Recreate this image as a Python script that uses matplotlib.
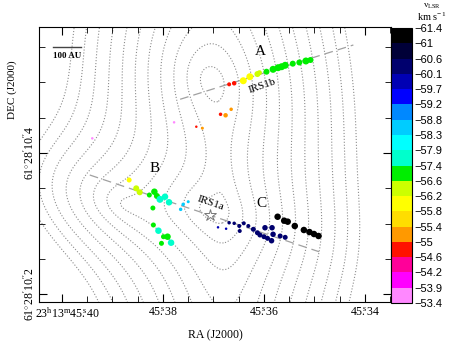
import matplotlib
matplotlib.use("Agg")
import matplotlib.pyplot as plt
import numpy as np
from matplotlib.colors import ListedColormap, BoundaryNorm
from matplotlib.ticker import FixedLocator, FixedFormatter, MultipleLocator
import matplotlib.colorbar as mcolorbar

plt.rcParams["font.family"] = ["Liberation Serif", "DejaVu Serif"]
plt.rcParams["mathtext.fontset"] = "custom"
plt.rcParams["mathtext.rm"] = "Liberation Serif"
plt.rcParams["mathtext.it"] = "Liberation Serif:italic"
plt.rcParams["mathtext.bf"] = "Liberation Serif:bold"

# colour bar: velocity bin edges (km/s) and colours
vel_edges = [-61.4, -61, -60.6, -60.1, -59.7, -59.2, -58.8, -58.3, -57.9, -57.4,
             -56.6, -56.2, -55.8, -55.4, -55, -54.6, -54.2, -53.9, -53.4]
vel_colors = ["#000000", "#000038", "#00006e", "#0000b4", "#0000ff", "#0088ff",
              "#00ccff", "#00ffff", "#00ffcc", "#00ee00", "#ccff00", "#ffff00",
              "#ffdd00", "#ff9900", "#ff1100", "#ff0099", "#ff00ff", "#ff88ff"]

# maser spots: RA seconds (23h13m..s), Dec arcsec (61d28'..")
spot_ra = [45.3669, 45.3659, 45.3641, 45.3628, 45.3613, 45.3609, 45.3595, 45.3582,
           45.3572, 45.3565, 45.3558, 45.3543, 45.3530, 45.3517, 45.3508,
           45.3686, 45.3676, 45.3665, 45.3734, 45.3722, 45.3778, 45.3940,
           45.3867, 45.3853, 45.3846, 45.3827, 45.3817, 45.3812, 45.3806, 45.3796,
           45.3788, 45.3760, 45.3750, 45.3765, 45.3820, 45.3819, 45.3809, 45.3799,
           45.3791, 45.3803, 45.3784,
           45.3691, 45.3675, 45.3669, 45.3659, 45.3649, 45.3640, 45.3631, 45.3648,
           45.3621, 45.3613, 45.3608, 45.3600, 45.3593, 45.3585, 45.3598, 45.3584,
           45.3582, 45.3568, 45.3558,
           45.3573, 45.3560, 45.3553, 45.3539, 45.3521, 45.3510, 45.3501, 45.3492]
spot_dec = [10.4974, 10.4989, 10.5025, 10.5082, 10.5120, 10.5139, 10.5153, 10.5187,
            10.5210, 10.5224, 10.5244, 10.5267, 10.5284, 10.5305, 10.5319,
            10.4549, 10.4535, 10.4620, 10.4373, 10.4352, 10.4435, 10.4208,
            10.3617, 10.3499, 10.3443, 10.3404, 10.3451, 10.3390, 10.3343, 10.3380,
            10.3301, 10.3272, 10.3309, 10.3201, 10.3220, 10.2979, 10.2898, 10.2813,
            10.2813, 10.2719, 10.2728,
            10.2946, 10.2926, 10.3011, 10.3003, 10.2965, 10.3003, 10.2965, 10.2894,
            10.2918, 10.2869, 10.2837, 10.2813, 10.2790, 10.2756, 10.2940, 10.2940,
            10.2847, 10.2823, 10.2804,
            10.3096, 10.3040, 10.3026, 10.2965, 10.2908, 10.2879, 10.2851, 10.2823]
spot_vel = [-54.8, -54.8, -56.0, -56.0, -56.4, -56.4, -57.0, -57.0,
            -57.0, -57.0, -57.0, -57.0, -57.0, -57.0, -57.0,
            -54.8, -55.2, -55.2, -54.8, -55.2, -53.65, -53.65,
            -56.0, -56.4, -56.4, -57.0, -57.0, -57.0, -57.65, -57.65,
            -57.65, -58.55, -58.55, -58.55, -57.0, -57.0, -57.65, -57.0,
            -57.0, -57.0, -57.65,
            -59.9, -59.9, -60.35, -60.35, -60.35, -60.35, -60.35, -60.35,
            -60.35, -60.35, -60.35, -60.35, -60.35, -60.35, -60.35, -60.35,
            -60.35, -60.35, -60.35,
            -61.2, -61.2, -61.2, -61.2, -61.2, -61.2, -61.2, -61.2]
spot_flux = [4, 4.5, 7, 7, 6, 5, 6, 7, 7, 7, 7, 6, 6, 7, 6,
             3.5, 4.5, 3.5, 2.5, 3, 2.5, 2.5,
             5, 6, 6, 5, 6.5, 6, 7, 6.5, 6.5, 3.5, 3, 3.5, 5, 5, 6.5, 5, 6.5, 5, 6.5,
             2.5, 2.5, 3.5, 3.5, 4, 4, 4, 4, 5, 5, 5, 5, 5, 5.5, 5.5, 5.5, 5.5, 5, 5,
             6.5, 6.5, 6.5, 6.5, 6.5, 6.5, 6.5, 6.5]

# continuum map components (RA s, Dec ", amplitude, width a ", width b ", angle deg)
comp_ra = [45.3687, 45.3707, 45.3707, 45.3872]
comp_dec = [10.3759, 10.5035, 10.3191, 10.3262]
comp_amp = [1.0, 1.0, 0.8, 0.45]
comp_a = [0.073, 0.06, 0.06, 0.08]
comp_b = [0.40, 0.075, 0.035, 0.045]
comp_ang = [2.0, 25.0, -18.6, -18.6]
cont_levels = [0.11, 0.14, 0.18, 0.235, 0.305, 0.395, 0.51, 0.66, 0.86, 1.12, 1.45]

# outflow axes (dashed), labels
axis_ra = [[45.3766, 45.3423], [45.3945, 45.3491]]
axis_dec = [[10.4762, 10.5532], [10.3688, 10.2600]]
star_ra, star_dec = 45.3707, 10.3121

ra_ticks = [45.40, 45.38, 45.36, 45.34]
ra_labels = [r"$23^{\rm h}13^{\rm m}45\overset{\rm s}{.}40$",
             r"$45\overset{\rm s}{.}38$", r"$45\overset{\rm s}{.}36$", r"$45\overset{\rm s}{.}34$"]
dec_ticks = [10.2, 10.4]
dec_labels = [r"$61^{\circ}28^{\prime}10\overset{\prime\prime}{.}2$",
              r"$61^{\circ}28^{\prime}10\overset{\prime\prime}{.}4$"]

cos_dec = np.cos(np.radians(61.4728))

fig = plt.figure(figsize=(4.53, 3.41), dpi=100)
ax = fig.add_axes([0.0861, 0.1144, 0.7770, 0.8064])

gx = np.linspace(45.333, 45.406, 320)
gy = np.linspace(10.18, 10.59, 320)
GX, GY = np.meshgrid(gx, gy)
Z = np.zeros_like(GX)
for r0, d0, amp, a, b, ang in zip(comp_ra, comp_dec, comp_amp, comp_a, comp_b, comp_ang):
    dx = (r0 - GX) * 15 * cos_dec
    dy = GY - d0
    t = np.radians(ang)
    u = dx * np.cos(t) + dy * np.sin(t)
    v = -dx * np.sin(t) + dy * np.cos(t)
    Z += amp * np.exp(-np.sqrt((u / a) ** 2 + (v / b) ** 2))
ax.contour(GX, GY, Z, levels=cont_levels, colors="#8c8c8c", linestyles=":",
           linewidths=0.8, zorder=1)

for xr, yd in zip(axis_ra, axis_dec):
    ax.plot(xr, yd, color="#a0a0a0", lw=0.9, dashes=(7, 4), zorder=2)

cmap = ListedColormap(vel_colors)
norm = BoundaryNorm(vel_edges, cmap.N)
ax.scatter(spot_ra, spot_dec, c=spot_vel, cmap=cmap, norm=norm,
           s=(0.72 * np.array(spot_flux)) ** 2, edgecolors="none", zorder=3)

ax.plot([star_ra], [star_dec], marker="*", ms=9, mfc="white", mec="#777777",
        mew=0.7, zorder=4)

ax.text(45.3608, 10.5433, "A", fontsize=11, ha="center", va="center")
ax.text(45.3816, 10.3787, "B", fontsize=11, ha="center", va="center")
ax.text(45.3605, 10.3287, "C", fontsize=11, ha="center", va="center")
ax.text(45.3604, 10.4950, "IRS1b", fontsize=8, ha="center", va="center", rotation=19)
ax.text(45.3705, 10.3291, "IRS1a", fontsize=8, ha="center", va="center", rotation=-19)

# 100 AU scale bar at 2.5 kpc
bar_len = 100 / 2500.0 / (15 * cos_dec)
ax.plot([45.4018, 45.4018 - bar_len], [10.5508, 10.5508], color="#444444", lw=1)
ax.text(45.4018 - bar_len / 2, 10.5375, "100 AU", fontsize=6.5, fontweight="bold",
        ha="center", va="center")

ax.set_xlim(45.40455, 45.33485)
ax.set_ylim(10.1887, 10.5787)
ax.xaxis.set_major_locator(FixedLocator(ra_ticks))
ax.xaxis.set_major_formatter(FixedFormatter([""] + ra_labels[1:]))
ax.xaxis.set_minor_locator(MultipleLocator(0.005))
ax.yaxis.set_major_locator(FixedLocator(dec_ticks))
ax.yaxis.set_major_formatter(FixedFormatter(dec_labels))
ax.yaxis.set_minor_locator(MultipleLocator(0.05))
ax.tick_params(which="both", direction="in", top=True, right=True, labelsize=8.5)
ax.tick_params(which="major", length=6)
ax.tick_params(which="minor", length=4)
ax.tick_params(axis="y", pad=2)
for lab in ax.get_yticklabels():
    lab.set_rotation(90)
    lab.set_va("center")
# first RA label nudged right so it clears the rotated Dec label
ax.annotate(ra_labels[0], xy=(ra_ticks[0], 0), xycoords=("data", "axes fraction"),
            xytext=(4, -3.5), textcoords="offset points", ha="center", va="top",
            fontsize=8.5, annotation_clip=False)

fig.text(0.4746, 0.018, "RA (J2000)", fontsize=8.5, ha="center", va="center")
fig.text(0.0265, 0.736, "DEC (J2000)", fontsize=8, ha="center", va="center",
         rotation=90)

cax = fig.add_axes([0.8631, 0.1114, 0.0453, 0.8064])
cb = mcolorbar.ColorbarBase(cax, cmap=cmap, norm=norm, boundaries=vel_edges,
                            ticks=vel_edges, spacing="uniform")
cax.invert_yaxis()
cb.set_ticklabels([f"{v:g}".replace("-", "\u2212") for v in vel_edges])
cax.tick_params(length=0, labelsize=8, pad=2)
for lab in cax.get_yticklabels():
    lab.set_family(["Liberation Sans", "DejaVu Sans"])
cb.outline.set_linewidth(0.8)
fig.text(0.953, 0.982, r"v$_{\rm LSR}$", fontsize=6.5, ha="center", va="center")
fig.text(0.953, 0.952, r"km s$^{-1}$", fontsize=7.5, ha="center", va="center")

fig.savefig("out.png", dpi=100)
